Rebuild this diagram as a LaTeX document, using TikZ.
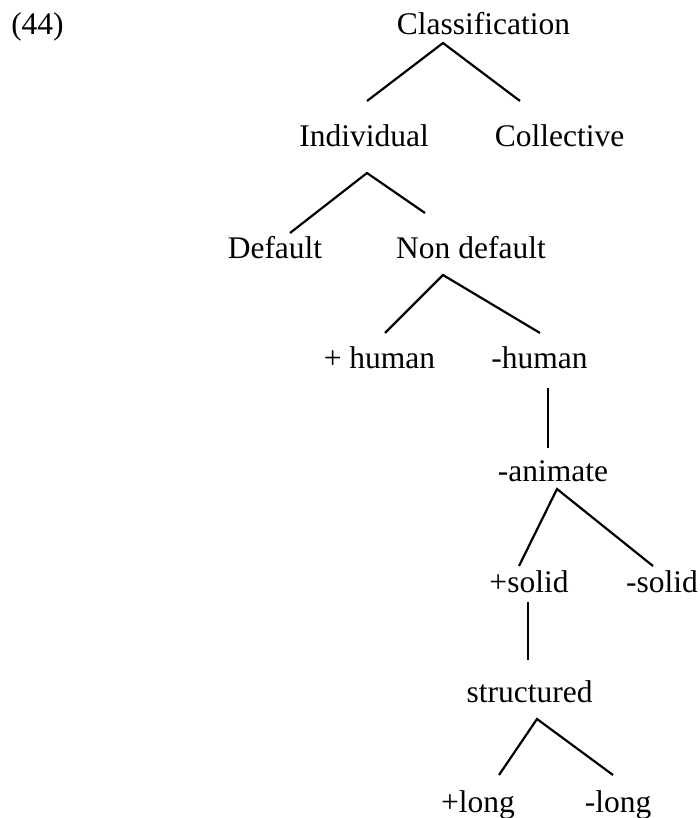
\documentclass[tikz,border=0pt]{standalone}
\usepackage{fontspec}
\setmainfont{Liberation Serif}
\begin{document}
\begin{tikzpicture}[x=1pt,y=-1pt,
  lbl/.style={anchor=base,inner sep=0pt,font=\fontsize{31.5}{36}\selectfont},
  edge/.style={line width=2.2pt}]
\useasboundingbox (0,0) rectangle (699,818);
\node[lbl] (num) at (37.5,35) {(44)};
\node[lbl] (cls) at (483.5,35) {Classification};
\node[lbl] (ind) at (364,147) {Individual};
\node[lbl] (col) at (559.5,147) {Collective};
\node[lbl] (def) at (275,258) {Default};
\node[lbl] (nd) at (471,258) {Non default};
\node[lbl] (hp) at (379.5,368) {+ human};
\node[lbl] (hm) at (539.5,368) {-human};
\node[lbl] (an) at (553,481) {-animate};
\node[lbl] (sp) at (529,592) {+solid};
\node[lbl] (sm) at (662,592) {-solid};
\node[lbl] (st) at (529.5,702) {structured};
\node[lbl] (lp) at (478,812) {+long};
\node[lbl] (lm) at (618,812) {-long};
\draw[edge] ([shift={(3,-46)}]ind.base) -- ([shift={(-40.5,8)}]cls.base) -- ([shift={(-39.5,-46)}]col.base);
\draw[edge] ([shift={(15,-25)}]def.base) -- ([shift={(3,26)}]ind.base) -- ([shift={(-46,-45)}]nd.base);
\draw[edge] ([shift={(5.5,-35)}]hp.base) -- ([shift={(-28,17)}]nd.base) -- ([shift={(0.5,-35)}]hm.base);
\draw[edge] ([shift={(8.5,20)}]hm.base) -- ([shift={(-5,-33)}]an.base);
\draw[edge] ([shift={(-10,-26)}]sp.base) -- ([shift={(4,8)}]an.base) -- ([shift={(-9,-26)}]sm.base);
\draw[edge] ([shift={(-1,10)}]sp.base) -- ([shift={(-1.5,-42)}]st.base);
\draw[edge] ([shift={(21,-37)}]lp.base) -- ([shift={(7.5,17)}]st.base) -- ([shift={(-5,-37)}]lm.base);
\end{tikzpicture}
\end{document}
